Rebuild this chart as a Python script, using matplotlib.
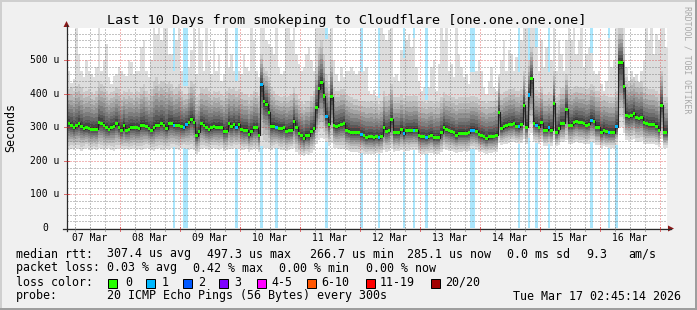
import numpy as np
import pandas as pd
import matplotlib
matplotlib.use("Agg")
import matplotlib.pyplot as plt
import matplotlib.dates as mdates
import matplotlib.transforms as mtransforms
from matplotlib.patches import Polygon, Rectangle
from matplotlib.lines import Line2D

# ------------------------------------------------------------------ data
title = "Last 10 Days from smokeping to Cloudflare [one.one.one.one]"
view_start = "2026-03-07 02:45:14"
view_end = "2026-03-17 02:45:14"
first_step = "2026-03-07 03:00"          # hourly consolidated steps

# median rtt per hour (microseconds)
rtt_median = [
    312, 305, 299, 305, 312, 303, 297, 299, 297, 295, 295, 295, 314, 312, 307, 299, 295, 301, 304, 312,
    299, 292, 307, 292, 295, 301, 300, 300, 297, 307, 307, 303, 297, 292, 299, 305, 307, 312, 307,
    297, 312, 312, 307, 307, 307, 302, 300, 309, 315, 325, 315, 275, 287, 312, 307, 299, 294, 299, 302,
    301, 301, 301, 287, 289, 312, 302, 309, 301, 310, 294, 292, 292, 279, 289, 299, 299, 277, 427, 377,
    370, 345, 304, 304, 301, 297, 297, 299, 289, 292, 292, 319, 301, 282, 275, 267, 277, 275, 289, 297,
    360, 415, 434, 394, 332, 310, 392, 307, 302, 307, 309, 312, 292, 289, 284, 285, 285, 285, 279, 275,
    270, 272, 272, 269, 274, 269, 274, 301, 289, 291, 324, 284, 285, 284, 295, 282, 292, 290, 290, 292,
    292, 275, 272, 272, 270, 274, 277, 269, 270, 270, 285, 301, 293, 291, 287, 284, 277, 283, 283, 283,
    283, 284, 292, 292, 289, 279, 275, 272, 267, 272, 272, 274, 277, 345, 297, 302, 305, 309, 310, 312,
    304, 302, 309, 367, 301, 397, 447, 313, 307, 301, 314, 292, 292, 299, 292, 372, 285, 297, 312, 312,
    355, 307, 307, 314, 319, 314, 314, 312, 307, 310, 322, 319, 301, 301, 285, 292, 287, 285, 285, 285,
    302, 494, 495, 422, 335, 332, 335, 342, 329, 327, 330, 315, 312, 309, 309, 309, 304, 292, 367, 284,
    284,
]

# highest of the 20 pings per hour
rtt_max = [
    469, 432, 445, 597, 520, 470, 450, 500, 470, 460, 450, 480, 597, 470, 500, 550, 450, 430, 455, 460,
    480, 470, 460, 455, 500, 497, 460, 470, 470, 540, 560, 470, 450, 500, 597, 580, 597, 560, 597,
    597, 520, 520, 470, 560, 597, 470, 425, 425, 480, 530, 597, 460, 597, 560, 470, 597, 500, 460, 560,
    470, 520, 440, 460, 597, 480, 520, 470, 440, 470, 460, 520, 480, 470, 597, 560, 470, 450, 597, 597,
    560, 550, 540, 520, 597, 480, 460, 470, 597, 597, 560, 597, 520, 490, 470, 480, 520, 540, 500, 470,
    597, 597, 597, 597, 565, 580, 597, 500, 460, 440, 480, 450, 470, 470, 480, 470, 460, 470, 466, 470,
    480, 410, 400, 412, 395, 387, 597, 580, 560, 590, 597, 450, 460, 440, 530, 507, 560, 580, 540, 567,
    480, 440, 410, 420, 382, 420, 480, 500, 410, 490, 597, 560, 597, 470, 490, 450, 597, 520, 480, 450,
    460, 430, 467, 467, 470, 500, 470, 420, 400, 440, 480, 420, 410, 460, 500, 560, 470, 530, 520, 470,
    510, 467, 560, 597, 597, 492, 597, 597, 540, 470, 560, 480, 540, 467, 500, 597, 470, 560, 520, 470,
    560, 597, 560, 597, 520, 560, 597, 480, 520, 540, 522, 470, 460, 470, 430, 410, 440, 567, 480, 500,
    597, 597, 597, 597, 480, 440, 470, 430, 460, 420, 470, 500, 597, 560, 597, 520, 580, 560, 597, 597,
    540,
]

# second highest ping per hour
rtt_upper = [
    415, 420, 410, 425, 430, 420, 405, 410, 415, 405, 400, 410, 440, 430, 425, 410, 400, 405, 410, 420,
    415, 400, 410, 405, 415, 407, 400, 410, 405, 420, 430, 410, 400, 415, 440, 450, 430, 440, 435,
    430, 440, 430, 415, 420, 430, 410, 400, 400, 420, 440, 430, 390, 400, 420, 415, 420, 410, 400, 410,
    405, 410, 400, 395, 410, 420, 415, 420, 410, 415, 405, 400, 400, 390, 400, 410, 405, 395, 520, 480,
    470, 450, 420, 410, 400, 395, 390, 395, 390, 395, 400, 420, 400, 385, 375, 370, 380, 380, 395, 410,
    480, 540, 560, 520, 460, 430, 500, 420, 410, 410, 415, 415, 400, 395, 390, 385, 385, 380, 380, 378,
    375, 375, 378, 372, 375, 370, 380, 410, 395, 400, 430, 390, 390, 390, 400, 388, 395, 395, 395, 398,
    395, 380, 375, 375, 372, 378, 380, 372, 375, 375, 390, 405, 398, 395, 392, 390, 385, 390, 390, 390,
    390, 390, 395, 395, 392, 385, 380, 378, 372, 378, 378, 380, 382, 450, 400, 405, 410, 415, 415, 418,
    410, 408, 415, 470, 410, 500, 540, 420, 412, 405, 420, 398, 398, 405, 398, 470, 392, 400, 418, 418,
    460, 420, 415, 420, 425, 420, 420, 418, 415, 418, 430, 425, 410, 410, 395, 400, 395, 392, 392, 392,
    410, 597, 597, 540, 450, 440, 445, 450, 440, 435, 440, 420, 418, 415, 415, 415, 410, 398, 470, 392,
    390,
]

# lowest ping per hour
rtt_min = [
    232, 236, 234, 238, 235, 231, 236, 240, 234, 232, 236, 233, 238, 236, 232, 235, 238, 234, 231, 236,
    239, 235, 233, 237, 232, 235, 238, 234, 236, 232, 235, 240, 237, 233, 230, 235, 238, 234, 232,
    236, 233, 238, 241, 236, 233, 238, 240, 237, 234, 236, 233, 222, 228, 236, 238, 235, 233, 237, 239,
    236, 234, 238, 230, 232, 237, 235, 238, 236, 240, 234, 232, 235, 228, 232, 236, 235, 226, 245, 240,
    238, 236, 234, 238, 240, 236, 232, 234, 230, 232, 235, 238, 228, 222, 218, 215, 220, 218, 225, 232,
    250, 262, 268, 265, 258, 245, 255, 240, 238, 235, 237, 236, 232, 230, 228, 228, 226, 225, 224, 222,
    220, 222, 221, 220, 223, 220, 224, 232, 228, 230, 238, 228, 230, 229, 232, 228, 231, 230, 232, 233,
    232, 224, 222, 220, 221, 223, 225, 220, 221, 222, 228, 236, 232, 230, 229, 228, 225, 228, 228, 229,
    228, 230, 235, 236, 234, 228, 226, 224, 222, 224, 225, 226, 228, 255, 248, 250, 252, 255, 256, 258,
    254, 252, 255, 265, 250, 270, 285, 258, 255, 250, 258, 246, 246, 250, 246, 262, 244, 248, 256, 256,
    262, 250, 250, 253, 256, 253, 253, 252, 250, 252, 256, 255, 248, 248, 240, 244, 241, 240, 240, 240,
    248, 300, 300, 285, 262, 260, 262, 265, 258, 258, 260, 252, 250, 250, 250, 250, 248, 242, 265, 240,
    240,
]

# hours in which pings were lost, and how many of 20
loss_steps = [
    "2026-03-08 21:00", "2026-03-09 01:00", "2026-03-09 02:00", "2026-03-09 22:00",
    "2026-03-10 08:00", "2026-03-10 14:00", "2026-03-11 10:00", "2026-03-12 00:00",
    "2026-03-12 07:00", "2026-03-12 17:00", "2026-03-12 21:00", "2026-03-13 02:00",
    "2026-03-13 20:00", "2026-03-13 21:00", "2026-03-14 15:00", "2026-03-14 19:00",
    "2026-03-14 22:00", "2026-03-15 03:00", "2026-03-15 20:00", "2026-03-16 03:00",
    "2026-03-16 06:00",
]
loss_pings = [1, 1, 1, 1, 1, 1, 1, 1, 1, 1, 1, 1, 1, 1, 1, 1, 1, 1, 1, 1, 1]

loss_labels = ["0", "1", "2", "3", "4-5", "6-10", "11-19", "20/20"]
loss_upper = [0, 1, 2, 3, 5, 10, 19, 20]
loss_colors = ["#26ff00", "#00b8ff", "#0059ff", "#7e00ff", "#ff00ff", "#ff5500", "#ff0000", "#a10000"]
loss_bg_colors = ["#ffffff", "#aae6fc", "#aac8ff", "#d6aaff", "#ffaaff", "#ffc6aa", "#ffaaaa", "#e0aaaa"]

day_labels = ["07 Mar", "08 Mar", "09 Mar", "10 Mar", "11 Mar", "12 Mar", "13 Mar", "14 Mar", "15 Mar", "16 Mar"]
y_ticks = [0, 100, 200, 300, 400, 500]
y_top = 597

rtt_items = ["median rtt:", "307.4 us avg", "497.3 us max", "266.7 us min", "285.1 us now", "0.0 ms sd", "9.3", "am/s"]
loss_items = ["packet loss:", "0.03 % avg", "0.42 % max", "0.00 % min", "0.00 % now"]
probe_items = ["probe:", "20 ICMP Echo Pings (56 Bytes) every 300s", "Tue Mar 17 02:45:14 2026"]

# ------------------------------------------------------------------ layout helpers
W, H = 697, 310
MONO = "DejaVu Sans Mono"
plt.rcParams["font.family"] = [MONO, "DejaVu Sans"]


def fx(x):
    return x / W


def fy(y):
    return 1 - y / H


fig = plt.figure(figsize=(W / 100, H / 100), dpi=100, facecolor="#f0f0f0")

# outer 3D frame
fig.add_artist(Rectangle((0, fy(2)), 1, 2 / H, transform=fig.transFigure, color="#cfcfcf", lw=0))
fig.add_artist(Rectangle((0, 0), 2 / W, 1, transform=fig.transFigure, color="#cfcfcf", lw=0))
fig.add_artist(Rectangle((0, 0), 1, 2 / H, transform=fig.transFigure, color="#9e9e9e", lw=0))
fig.add_artist(Rectangle((fx(695), 0), 2 / W, 1, transform=fig.transFigure, color="#9e9e9e", lw=0))

PL, PR, PT, PB = 66.9, 666.9, 28, 228
ax = fig.add_axes([fx(PL), fy(PB), (PR - PL) / W, (PB - PT) / H])
ax.set_facecolor("white")
for s in ax.spines.values():
    s.set_visible(False)
ax.set_xticks([])
ax.set_yticks([])

t0 = mdates.date2num(pd.Timestamp(view_start).to_pydatetime())
t1 = mdates.date2num(pd.Timestamp(view_end).to_pydatetime())
ax.set_xlim(t0, t1)
ax.set_ylim(0, y_top)

N = len(rtt_median)
times = pd.date_range(first_step, periods=N, freq="h")
x = mdates.date2num(times.to_pydatetime())
step = 1.0 / 24
xe = np.append(x, x[-1] + step)

med = np.array(rtt_median, float)
mx = np.array(rtt_max, float)
up = np.array(rtt_upper, float)
mn = np.array(rtt_min, float)

# per-step loss
loss = np.zeros(N, int)
for ts, n in zip(loss_steps, loss_pings):
    i = int(round((mdates.date2num(pd.Timestamp(ts).to_pydatetime()) - x[0]) / step))
    if 0 <= i < N:
        loss[i] = n


def loss_index(n):
    for k, u in enumerate(loss_upper):
        if n <= u:
            return k
    return len(loss_upper) - 1


# loss background
for i in np.nonzero(loss)[0]:
    ax.axvspan(x[i], x[i] + step, color=loss_bg_colors[loss_index(loss[i])], lw=0, zorder=1)

# smoke: 20 sorted pings, paired outside-in
lower_frac = np.array([1.0, 0.84, 0.70, 0.58, 0.47, 0.37, 0.28, 0.19, 0.11, 0.04])
upper_frac = np.array([0.05, 0.13, 0.22, 0.32, 0.43, 0.55, 0.68, 0.83, 1.0])
ranks = np.empty((20, N))
for k in range(10):
    ranks[k] = med - (med - mn) * lower_frac[k]
for k in range(9):
    ranks[10 + k] = med + (up - med) * upper_frac[k]
ranks[19] = mx
for i in range(10):
    lo = ranks[i]
    hi = ranks[19 - i]
    g = int(190 / 10 * (10 - (i + 1))) + 50
    col = "#%02x%02x%02x" % (g, g, g)
    ax.fill_between(xe, np.append(lo, lo[-1]), np.append(hi, hi[-1]), step="post",
                    color=col, lw=0, zorder=2)

# grid (dotted)
dot = (0, (1.39, 1.39))
minor_c = (0.45, 0.45, 0.45, 0.42)
major_c = (0.85, 0.15, 0.15, 0.33)
for v in range(20, y_top, 20):
    ax.axhline(v, color=major_c if v % 100 == 0 else minor_c, lw=0.72, ls=dot, zorder=3,
               antialiased=False)
for t in pd.date_range("2026-03-07 06:00", "2026-03-17 00:00", freq="6h"):
    tv = mdates.date2num(t.to_pydatetime())
    ax.axvline(tv, color=major_c if t.hour == 0 else minor_c, lw=0.72, ls=dot, zorder=3,
               antialiased=False)

# median line and loss coloured markers
ax.step(xe, np.append(med, med[-1]), where="post", color="#202020", lw=0.8, zorder=4)
sw = 4.5
cols = [loss_colors[loss_index(n)] for n in loss]
ax.bar(x, 2 * sw, bottom=med - sw, width=step, align="edge", color=cols, lw=0, zorder=5)

# axes lines, ticks and arrows
axis_c = "#2a2a2a"
arrow_c = "#8b1a1a"
fig.add_artist(Line2D([fx(63), fx(671)], [fy(228.5), fy(228.5)], color=axis_c, lw=0.9))
fig.add_artist(Line2D([fx(66.5), fx(66.5)], [fy(231), fy(25)], color=axis_c, lw=0.9))
fig.add_artist(Polygon([[fx(63.5), fy(27)], [fx(69.5), fy(27)], [fx(66.5), fy(21)]],
                       closed=True, transform=fig.transFigure, color=arrow_c, lw=0))
fig.add_artist(Polygon([[fx(668), fy(225.5)], [fx(668), fy(231.5)], [fx(674), fy(228.5)]],
                       closed=True, transform=fig.transFigure, color=arrow_c, lw=0))

bx = mtransforms.blended_transform_factory(ax.transData, fig.transFigure)
by = mtransforms.blended_transform_factory(fig.transFigure, ax.transData)
for t in pd.date_range("2026-03-07 06:00", "2026-03-17 00:00", freq="6h"):
    tv = mdates.date2num(t.to_pydatetime())
    c = (0.8, 0.1, 0.1, 0.6) if t.hour == 0 else (0.5, 0.5, 0.5, 0.6)
    fig.add_artist(Line2D([tv, tv], [fy(226.5), fy(231)], transform=bx, color=c, lw=0.72))
for v in y_ticks[1:]:
    fig.add_artist(Line2D([fx(64), fx(69)], [v, v], transform=by, color=(0.8, 0.1, 0.1, 0.6), lw=0.72))

# x labels (centered at noon)
for k, lab in enumerate(day_labels):
    noon = pd.Timestamp("2026-03-07 12:00") + pd.Timedelta(days=k)
    ax.text(mdates.date2num(noon.to_pydatetime()), fy(241), lab, transform=bx,
            ha="center", va="baseline", fontsize=7.0, family=MONO, clip_on=False)

# y labels
ylab_t = mtransforms.offset_copy(by, fig=fig, x=0, y=-3, units="dots")
for v in y_ticks:
    if v == 0:
        fig.text(fx(47.8), v, "0", transform=ylab_t, ha="right", va="baseline",
                 fontsize=7.0, family=MONO)
    else:
        fig.text(fx(59.5), v, f"{v} u", transform=ylab_t, ha="right", va="baseline",
                 fontsize=7.0, family=MONO)

# titles
fig.text(fx(347), fy(24), title, ha="center", va="baseline", fontsize=9.7, family=MONO)
fig.text(fx(10.5), fy(127), "Seconds", rotation=90, ha="center", va="center", fontsize=8.4, family=MONO)
fig.text(fx(687), fy(60), "RRDTOOL / TOBI OETIKER", rotation=270, ha="center", va="center",
         fontsize=5.9, family=MONO, color="#a8a8a8")

# legend lines
FS = 8.4
rtt_x = [16, 107, 207, 310, 407, 507, 586, 628]
for s, xx in zip(rtt_items, rtt_x):
    fig.text(fx(xx), fy(257.5), s, ha="left", va="baseline", fontsize=FS, family=MONO)
loss_x = [16, 107, 193, 279, 366]
for s, xx in zip(loss_items, loss_x):
    fig.text(fx(xx), fy(271.5), s, ha="left", va="baseline", fontsize=FS, family=MONO)
fig.text(fx(16), fy(285.5), "loss color:", ha="left", va="baseline", fontsize=FS, family=MONO)
box_x = [108, 146, 183, 219, 257, 307, 366, 431]
lab_x = [125, 162, 198, 234, 271, 321, 380, 445]
for lab, c, bxp, lxp in zip(loss_labels, loss_colors, box_x, lab_x):
    fig.add_artist(Rectangle((fx(bxp), fy(287.5)), 9 / W, 9 / H, transform=fig.transFigure,
                             facecolor=c, edgecolor="black", lw=0.72))
    fig.text(fx(lxp), fy(285.5), lab, ha="left", va="baseline", fontsize=FS, family=MONO)
probe_x = [16, 107, 513]
for s, xx in zip(probe_items, probe_x):
    fig.text(fx(xx), fy(299.5), s, ha="left", va="baseline", fontsize=FS, family=MONO)

fig.savefig("out.png", dpi=100, facecolor=fig.get_facecolor())
